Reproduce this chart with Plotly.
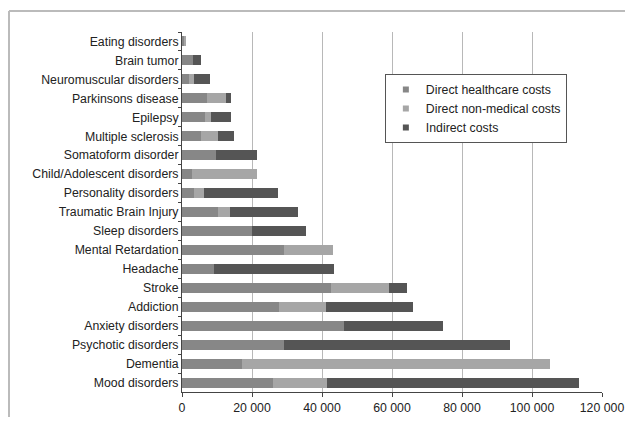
import plotly.graph_objects as go

categories = ["Eating disorders", "Brain tumor", "Neuromuscular disorders", "Parkinsons disease",
              "Epilepsy", "Multiple sclerosis", "Somatoform disorder", "Child/Adolescent disorders",
              "Personality disorders", "Traumatic Brain Injury", "Sleep disorders", "Mental Retardation",
              "Headache", "Stroke", "Addiction", "Anxiety disorders", "Psychotic disorders",
              "Dementia", "Mood disorders"]
direct_healthcare = [800, 3200, 2000, 7100, 6600, 5500, 9700, 2900, 3500, 10400,
                     19900, 29200, 9000, 42500, 27700, 46300, 29000, 17000, 26100]
direct_nonmedical = [200, 0, 1500, 5600, 1800, 4700, 0, 18600, 2800, 3200,
                     0, 14000, 0, 16700, 13400, 0, 0, 88100, 15200]
indirect = [0, 2300, 4400, 1400, 5500, 4600, 11600, 0, 21000, 19600,
            15500, 0, 34400, 5000, 24800, 28200, 64800, 0, 72000]
tick_vals = [0, 20000, 40000, 60000, 80000, 100000, 120000]
tick_text = ["0", "20 000", "40 000", "60 000", "80 000", "100 000", "120 000"]

series = [("Direct healthcare costs", direct_healthcare, "#878787"),
          ("Direct non-medical costs", direct_nonmedical, "#a6a6a6"),
          ("Indirect costs", indirect, "#555555")]

fig = go.Figure()
for name, vals, col in series:
    fig.add_trace(go.Bar(y=categories, x=vals, name=name, orientation="h", showlegend=False,
                         marker=dict(color=col, line=dict(width=0))))
# legend entries with small square swatches
for name, vals, col in series:
    fig.add_trace(go.Scatter(x=[None], y=[None], mode="markers", name=name,
                             marker=dict(symbol="square", size=6, color=col)))

# page body has an 8px margin; figure offset compensated
W, H = 617, 409
L, T, PW, PH = 174, 24, 420, 360
fig.update_layout(
    width=W, height=H,
    margin=dict(l=L, r=W - L - PW, t=T, b=H - T - PH, autoexpand=False),
    barmode="stack", bargap=0.47,
    paper_bgcolor="white", plot_bgcolor="white",
    font=dict(family="Liberation Sans, Arial", size=12.3, color="#222222"),
    showlegend=True,
    legend=dict(x=0.483, y=0.883, xanchor="left", yanchor="top",
                bgcolor="white", bordercolor="#555555", borderwidth=1,
                font=dict(size=12.3, color="#222222"), traceorder="normal",
                itemwidth=30, tracegroupgap=0),
    xaxis=dict(range=[0, 120000], tickvals=tick_vals, ticktext=tick_text,
               showgrid=True, gridcolor="#b8b8b8", gridwidth=1,
               showline=True, linecolor="#444444", linewidth=1,
               ticks="outside", ticklen=4, tickcolor="#444444",
               zeroline=False, tickfont=dict(size=12.3, color="#222222")),
    yaxis=dict(autorange="reversed", showline=True, linecolor="#444444", linewidth=1,
               ticks="outside", ticklen=3, tickcolor="#444444", tickson="boundaries",
               showgrid=False, tickfont=dict(size=12.3, color="#222222")),
    shapes=[
        dict(type="line", xref="paper", yref="paper",
             x0=(1 - L) / PW, x1=(W - L) / PW, y0=1 + (T - 3) / PH, y1=1 + (T - 3) / PH,
             line=dict(color="#bbbbbb", width=2)),
        dict(type="line", xref="paper", yref="paper",
             x0=(1 - L) / PW, x1=(1 - L) / PW, y0=1 + (T - 3) / PH, y1=-(H - T - PH) / PH,
             line=dict(color="#bbbbbb", width=2)),
    ],
)

fig.write_html("out.html")
